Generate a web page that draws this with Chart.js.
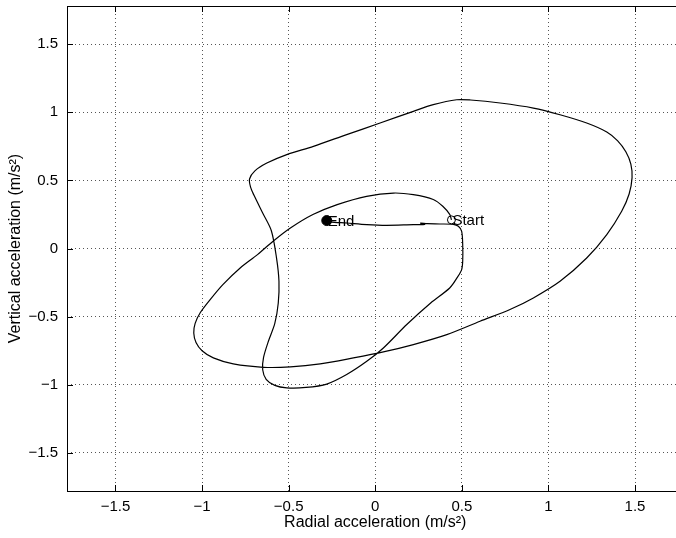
<!DOCTYPE html>
<html>
<head>
<meta charset="utf-8">
<script src="https://cdn.jsdelivr.net/npm/chart.js@4/dist/chart.umd.min.js"></script>
<style>
  html, body { margin: 0; padding: 0; background: #fff; }
  #wrap { width: 676px; height: 538px; overflow: hidden; position: relative; }
  canvas { display: block; }
</style>
</head>
<body>
<div id="wrap"><canvas id="c" width="700" height="538"></canvas></div>
<script>
// Trajectory of the acceleration vector (radial, vertical), in m/s²
const radialAcc = [
  0.44, 0.43, 0.39, 0.335, 0.22, 0.105, -0.05, -0.22, -0.36, -0.49,
  -0.59, -0.68, -0.78, -0.88, -0.95, -1.01, -1.04, -1.048, -1.035, -1.0,
  -0.935, -0.82, -0.646, -0.49, -0.318, -0.126, 0.047, 0.22, 0.413, 0.605,
  0.778, 0.913, 1.067, 1.221, 1.337, 1.423, 1.466, 1.483, 1.476, 1.447,
  1.40, 1.337, 1.221, 1.067, 0.913, 0.721, 0.55, 0.47, 0.335, 0.22,
  0.028, -0.165, -0.357, -0.511, -0.626, -0.695, -0.726, -0.72, -0.70, -0.65,
  -0.60, -0.57, -0.556, -0.56, -0.58, -0.617, -0.645, -0.65, -0.63, -0.58,
  -0.511, -0.40, -0.28, -0.165, -0.049, 0.047, 0.182, 0.32, 0.43, 0.475,
  0.499, 0.505, 0.505, 0.499, 0.48, 0.451, 0.374, 0.30, 0.262, 0.285,
  0.22, 0.066, -0.049, -0.165, -0.261, -0.28
];
const verticalAcc = [
  0.21, 0.25, 0.31, 0.36, 0.395, 0.407, 0.383, 0.322, 0.249, 0.150,
  0.053, -0.045, -0.143, -0.265, -0.37, -0.47, -0.55, -0.62, -0.69, -0.75,
  -0.803, -0.847, -0.872, -0.869, -0.847, -0.803, -0.759, -0.705, -0.632, -0.534,
  -0.448, -0.363, -0.241, -0.070, 0.102, 0.273, 0.40, 0.52, 0.62, 0.71,
  0.79, 0.855, 0.921, 0.982, 1.031, 1.068, 1.09, 1.092, 1.056, 1.007,
  0.921, 0.836, 0.750, 0.689, 0.627, 0.57, 0.51, 0.45, 0.39, 0.26,
  0.13, -0.07, -0.24, -0.40, -0.55, -0.681, -0.80, -0.89, -0.96, -1.005,
  -1.023, -1.02, -0.995, -0.925, -0.828, -0.730, -0.558, -0.40, -0.29, -0.21,
  -0.155, -0.094, 0.029, 0.126, 0.163, 0.177, 0.180, 0.182, 0.186, 0.176,
  0.175, 0.170, 0.175, 0.187, 0.196, 0.205
];
const startPoint = [0.44, 0.21];
const endPoint = [-0.28, 0.205];
const tickValues = [-1.5, -1, -0.5, 0, 0.5, 1, 1.5];
const axisLimits = [-1.78, 1.78];

const FONT = '"Liberation Sans", Arial, Helvetica, sans-serif';
const fmt = v => (v < 0 ? '\u2212' + Math.abs(v) : String(v));

const curve = radialAcc.map((x, i) => ({ x, y: verticalAcc[i] }));

// frame, inward tick marks and the Start / End annotations
const decorations = {
  id: 'decorations',
  afterDraw(chart) {
    const { ctx, chartArea: a, scales: { x, y } } = chart;
    ctx.save();
    ctx.strokeStyle = '#000';
    ctx.lineWidth = 1;
    ctx.beginPath();
    const L = 6;
    tickValues.forEach(v => {
      const px = Math.round(x.getPixelForValue(v)) + 0.5;
      ctx.moveTo(px, a.bottom); ctx.lineTo(px, a.bottom - L);
      ctx.moveTo(px, a.top); ctx.lineTo(px, a.top + L);
      const py = Math.round(y.getPixelForValue(v)) + 0.5;
      ctx.moveTo(a.left, py); ctx.lineTo(a.left + L, py);
      ctx.moveTo(a.right, py); ctx.lineTo(a.right - L, py);
    });
    ctx.stroke();
    ctx.strokeRect(Math.round(a.left) + 0.5, Math.round(a.top) + 0.5,
                   Math.round(a.right - a.left), Math.round(a.bottom - a.top));
    ctx.fillStyle = '#000';
    ctx.font = '15px ' + FONT;
    ctx.textBaseline = 'middle';
    ctx.textAlign = 'left';
    ctx.fillText('Start', x.getPixelForValue(startPoint[0]) + 1, y.getPixelForValue(startPoint[1]) + 1);
    ctx.fillText('End', x.getPixelForValue(endPoint[0]) + 1, y.getPixelForValue(endPoint[1]) + 1);
    ctx.restore();
  }
};

const axisCommon = (title, fit) => ({
  type: 'linear',
  min: axisLimits[0],
  max: axisLimits[1],
  afterBuildTicks: s => { s.ticks = tickValues.map(value => ({ value })); },
  afterFit: fit,
  grid: { color: '#555', lineWidth: 1, drawTicks: false },
  border: { display: false, dash: [1, 3] },
  ticks: {
    color: '#000',
    font: { family: FONT, size: 15 },
    callback: v => fmt(v),
    maxRotation: 0,
    autoSkip: false
  },
  title: {
    display: true,
    text: title,
    color: '#000',
    font: { family: FONT, size: 16 }
  }
});

// fixed axis boxes, no extra padding for edge labels
const xScale = axisCommon('Radial acceleration (m/s²)', s => {
  s.height = 47; s.paddingLeft = 0; s.paddingRight = 0;
});
xScale.position = 'bottom';
xScale.ticks.padding = 7;
xScale.title.padding = { top: 0, bottom: 6 };

const yScale = axisCommon('Vertical acceleration (m/s²)', s => {
  s.width = 67; s.paddingTop = 0; s.paddingBottom = 0;
});
yScale.position = 'left';
yScale.ticks.padding = 9;
yScale.title.padding = { top: 6, bottom: 0 };

new Chart(document.getElementById('c'), {
  type: 'scatter',
  data: {
    datasets: [
      {
        data: curve,
        showLine: true,
        borderColor: '#000',
        borderWidth: 1.2,
        pointRadius: 0,
        tension: 0.3,
        fill: false
      },
      {
        data: [{ x: startPoint[0], y: startPoint[1] }],
        pointRadius: 4,
        pointBorderColor: '#000',
        pointBackgroundColor: 'rgba(0,0,0,0)',
        pointBorderWidth: 1
      },
      {
        data: [{ x: endPoint[0], y: endPoint[1] }],
        pointRadius: 5,
        pointBorderColor: '#000',
        pointBackgroundColor: '#000',
        pointBorderWidth: 1
      }
    ]
  },
  options: {
    responsive: false,
    animation: false,
    layout: { padding: { left: 0, top: 5, right: 16.5, bottom: 0 } },
    plugins: { legend: { display: false }, tooltip: { enabled: false } },
    scales: { x: xScale, y: yScale }
  },
  plugins: [decorations]
});
</script>
</body>
</html>
